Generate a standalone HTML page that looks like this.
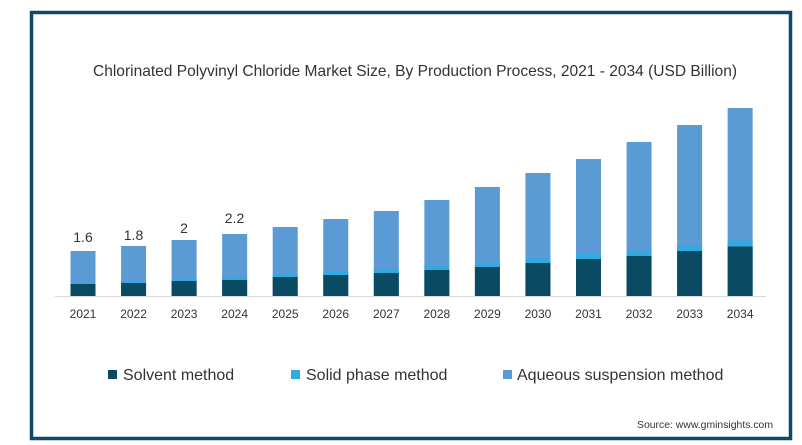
<!DOCTYPE html>
<html><head><meta charset="utf-8"><style>
html,body{margin:0;padding:0;background:#fff;width:802px;height:445px;overflow:hidden}
svg{display:block}
text{font-family:"Liberation Sans",sans-serif;fill:#333}
</style></head><body>
<svg width="802" height="445" viewBox="0 0 802 445" xmlns="http://www.w3.org/2000/svg">
<rect x="31.5" y="12.5" width="759" height="426" fill="#fff" stroke="#0e4a63" stroke-width="3.5"/>
<text x="415" y="76" font-size="16" text-anchor="middle" textLength="644" lengthAdjust="spacingAndGlyphs">Chlorinated Polyvinyl Chloride Market Size, By Production Process, 2021 - 2034 (USD Billion)</text>
<line x1="55" y1="296.5" x2="766" y2="296.5" stroke="#d9d9d9" stroke-width="1"/>
<g id="bars"></g>
<g font-size="14" text-anchor="middle">
<text x="83" y="242">1.6</text><text x="133.5" y="240">1.8</text><text x="184" y="233">2</text><text x="234.5" y="223">2.2</text>
</g>
<g font-size="12" text-anchor="middle" id="lbl"></g>
<rect x="108" y="370" width="9" height="9" fill="#0b4a63"/>
<text x="123" y="380" font-size="16">Solvent method</text>
<rect x="291" y="370" width="9" height="9" fill="#33a9e0"/>
<text x="306" y="380" font-size="16">Solid phase method</text>
<rect x="503" y="370" width="9" height="9" fill="#5b9bd5"/>
<text x="517" y="380" font-size="16">Aqueous suspension method</text>
<text x="773" y="428" font-size="10.5" text-anchor="end" textLength="136" lengthAdjust="spacingAndGlyphs">Source: www.gminsights.com</text>
</svg>
<script>
var tops=[251,246,240,234,227,219,211,200,187,173,159,142,125,108];
var dark=[284,283,281,280,277,275,273,270,267,263,259,256,251,246.5];
var g=document.getElementById('bars'),l=document.getElementById('lbl'),ns='http://www.w3.org/2000/svg';
function r(x,y,w,h,c){var e=document.createElementNS(ns,'rect');e.setAttribute('x',x);e.setAttribute('y',y);e.setAttribute('width',w);e.setAttribute('height',h);e.setAttribute('fill',c);g.appendChild(e);}
for(var i=0;i<14;i++){var x=70.5+i*50.55;var lt=1.5+i*0.35;
r(x,tops[i],25,296-tops[i],'#5b9bd5');r(x,dark[i]-lt,25,lt,'#33a9e0');r(x,dark[i],25,296-dark[i],'#0b4a63');
var t=document.createElementNS(ns,'text');t.setAttribute('x',x+12.5);t.setAttribute('y',318);t.textContent=2021+i;l.appendChild(t);}
</script>
</body></html>
